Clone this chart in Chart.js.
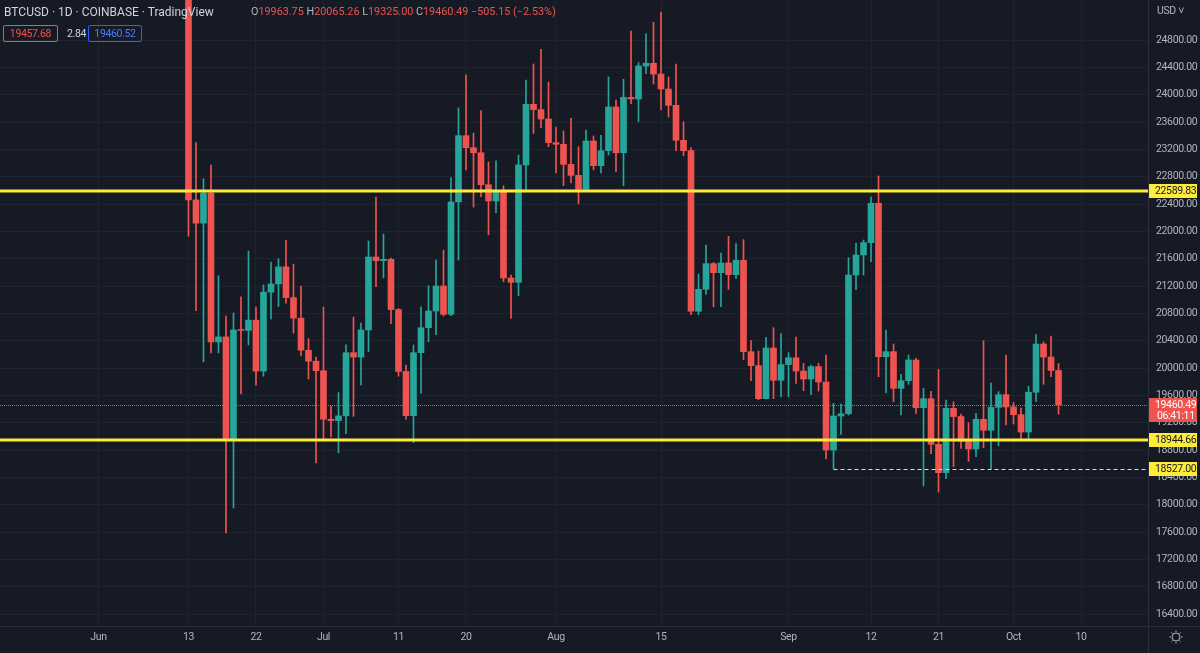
<!DOCTYPE html>
<html>
<head>
<meta charset="utf-8">
<script src="https://cdn.jsdelivr.net/npm/chart.js@4.4.1/dist/chart.umd.min.js"></script>
<style>
  html, body { margin: 0; padding: 0; background: #161a25; }
  #wrap { position: relative; width: 1200px; height: 653px; overflow: hidden; }
  #chart { position: absolute; left: 0; top: 0; }
  .hdr { position: absolute; white-space: nowrap; font-family: Roboto, sans-serif; font-size: 12px; line-height: 14px; }
  .ohlc { font-size: 10.8px; }
  .small { font-size: 10.5px; letter-spacing: -0.35px; }
  .lbl { color: #b2b5be; }
  .val { color: #ef5350; }
  .box { position: absolute; height: 17px; line-height: 15px; border-radius: 2px; font-size: 10.5px; letter-spacing: -0.35px; box-sizing: border-box; text-align: center; }
</style>
</head>
<body>
<div id="wrap">
  <canvas id="chart" width="1200" height="653"></canvas>
  <div class="hdr" style="left:4px; top:5px; color:#d1d4dc">BTCUSD · 1D · COINBASE · TradingView</div>
  <div class="hdr ohlc" style="left:251px; top:5px">
    <span class="lbl">O</span><span class="val">19963.75</span>
    <span class="lbl">H</span><span class="val">20065.26</span>
    <span class="lbl">L</span><span class="val">19325.00</span>
    <span class="lbl">C</span><span class="val">19460.49</span>
    <span class="val">−505.15 (−2.53%)</span>
  </div>
  <div class="hdr box" style="left:3px; top:25px; width:55px; border:1px solid #ef5350; color:#ef5350">19457.68</div>
  <div class="hdr small" style="left:67px; top:27px; color:#d1d4dc">2.84</div>
  <div class="hdr box" style="left:88px; top:25px; width:54px; border:1px solid #2962ff; color:#4a7dff">19460.52</div>
  <div class="hdr small" style="left:1157px; top:4px; color:#b2b5be">USD ˅</div>
</div>

<script>
// BTCUSD daily candles, 13 Jun 2022 -> 7 Oct 2022
const firstDate = '2022-06-13';
const opens = [
  26574, 22460, 22120, 22560, 20380, 20455, 18946, 20556, 20550, 20700, 19955, 21110, 21230, 21480, 21030, 20730, 20260, 20100,
  19960, 19250, 19230, 19300, 20224, 20160, 20556, 21624, 21570, 21590, 20855, 19950, 19302, 20224, 20590, 20834, 21200, 20785,
  22430, 23400, 23224, 23150, 22682, 22444, 22590, 21317, 21254, 22971, 23859, 23781, 23644,
  23298, 23274, 22980, 22820, 22615, 23322, 22961, 23180, 23820, 23150, 23961, 23937, 24420, 24460, 24302, 24083, 23844, 23332,
  23180, 20830, 21152, 21527, 21395, 21537, 21366, 21576, 20239, 20034, 19551, 20293, 19820,
  20050, 20150, 19956, 19839, 20020, 19795, 18800, 19297, 19330, 21361, 21654, 21834, 22410, 20165, 20239, 19702, 19815, 20117,
  19419, 19551, 18883, 18468, 19410, 19290, 18930, 18815, 19249, 19088, 19424, 19610,
  19430, 19317, 19063, 19645, 20351, 20161, 19963.75
];
const highs = [
  26890, 23300, 22770, 22970, 21350, 20760, 20805, 21040, 21710, 20890, 21215, 21550, 21600, 21870, 21520, 21200, 20430, 20160,
  20890, 19440, 19640, 20340, 20746, 20658, 21858, 22502, 21960, 21610, 20870, 20044, 20337, 20897, 21204, 21580, 21726, 22785,
  23805, 24292, 23440, 23766, 23015, 23030, 22668, 21360, 23117, 24215, 24449, 24664, 24185,
  23527, 23468, 23654, 23239, 23483, 23395, 23405, 24259, 23922, 24225, 24932, 24468, 24892, 25059, 25210, 24259, 24449, 23605,
  23225, 21376, 21800, 21547, 21683, 21927, 21820, 21879, 20400, 20249, 20449, 20590, 20502,
  20224, 20453, 20068, 20044, 20068, 20190, 19483, 19473, 21614, 21825, 21873, 22503, 22810, 20556, 20351, 19907, 20190, 20146,
  19702, 19658, 19981, 19532, 19507, 19327, 19200, 19337, 20400, 19780, 19654, 20190,
  19498, 19415, 19732, 20488, 20380, 20468, 20065.26
];
const lows = [
  21930, 20840, 20090, 20220, 20220, 17585, 17950, 19620, 20340, 19750, 19880, 20720, 20900, 20950, 20510, 20175, 19840, 18610,
  18960, 18990, 18760, 19040, 19293, 19751, 20238, 21190, 21320, 20648, 19880, 19253, 18908, 19630, 20385, 20488, 20760, 20766,
  21580, 22897, 22356, 22507, 21950, 22273, 21264, 20727, 21058, 22595, 23434, 23517, 23239,
  22854, 22668, 22707, 22400, 22595, 22900, 22854, 23117, 22873, 22668, 23868, 23605, 24307, 24156, 23776, 23673, 23180, 23107,
  20780, 20780, 21078, 20897, 20897, 21152, 21312, 20121, 19815, 19537, 19546, 19551, 19581,
  19581, 19776, 19668, 19610, 19663, 18668, 18527, 19029, 19312, 21146, 21361, 21556, 19872, 19634, 19507, 19312, 19761, 19336,
  18273, 18746, 18185, 18380, 18556, 18824, 18634, 18703, 18834, 18527, 18859, 19166,
  19180, 18942, 18966, 19512, 19761, 19873, 19325
];
const closes = [
  22460, 22120, 22560, 20380, 20455, 18946, 20556, 20550, 20700, 19955, 21110, 21230, 21480, 21030, 20730, 20260, 20100, 19960,
  19250, 19230, 19300, 20224, 20160, 20556, 21624, 21570, 21590, 20855, 19950, 19302, 20224, 20590, 20834, 21200, 20785, 22430,
  23400, 23224, 23150, 22682, 22444, 22590, 21317, 21254, 22971, 23859, 23781, 23644, 23298,
  23274, 22980, 22820, 22615, 23322, 22961, 23180, 23820, 23150, 23961, 23937, 24420, 24460, 24302, 24083, 23844, 23332, 23180,
  20830, 21152, 21527, 21395, 21537, 21366, 21576, 20239, 20034, 19551, 20293, 19820, 20050,
  20150, 19956, 19839, 20020, 19795, 18800, 19297, 19330, 21361, 21654, 21834, 22410, 20165, 20239, 19702, 19815, 20117, 19419,
  19551, 18883, 18468, 19410, 19290, 18930, 18815, 19249, 19088, 19424, 19610, 19430,
  19317, 19063, 19645, 20351, 20161, 19963.75, 19460.49
];

// axis ticks
const xTickDates = ['2022-06-01', '2022-06-13', '2022-06-22', '2022-07-01', '2022-07-11', '2022-07-20', '2022-08-01',
                    '2022-08-15', '2022-09-01', '2022-09-12', '2022-09-21', '2022-10-01', '2022-10-10'];
const xTickLabels = ['Jun', '13', '22', 'Jul', '11', '20', 'Aug', '15', 'Sep', '12', '21', 'Oct', '10'];
const priceTicks = [16400, 16800, 17200, 17600, 18000, 18400, 18800, 19200, 19600, 20000, 20400, 20800,
                    21200, 21600, 22000, 22400, 22800, 23200, 23600, 24000, 24400, 24800];

// drawn levels
const levels = [22589.83, 18944.66];
const lowLevel = 18527.00;
const lowLevelFrom = '2022-09-07';
const lastPrice = 19460.49;
const countdown = '06:41:11';

const UP = '#26a69a', DOWN = '#ef5350', YELLOW = '#ffeb3b';
const GRID = '#1f2330', LINE = '#2a2e39', TXT = '#b2b5be';
const FONT = 'Roboto, sans-serif';
const SPACING = '-0.35px';

function dayNum(s) {
    const a = Date.UTC(+s.slice(0, 4), +s.slice(5, 7) - 1, +s.slice(8, 10));
    const b = Date.UTC(2022, 5, 1);
    return Math.round((a - b) / 86400000);
}

const x0 = dayNum(firstDate);
const xTicks = xTickDates.map(dayNum);
const colors = closes.map((c, i) => c >= opens[i] ? UP : DOWN);
const bodies = closes.map((c, i) => ({ x: x0 + i, y: [opens[i], c] }));
const wicks = closes.map((c, i) => ({ x: x0 + i, y: [lows[i], highs[i]] }));

function hline(ctx, area, y, color, width, dash, fromX) {
    ctx.save();
    ctx.beginPath();
    ctx.strokeStyle = color;
    ctx.lineWidth = width;
    ctx.setLineDash(dash || []);
    ctx.moveTo(fromX !== undefined ? fromX : area.left, y);
    ctx.lineTo(area.right, y);
    ctx.stroke();
    ctx.restore();
}

function tag(ctx, y, text, bg, fg) {
    ctx.save();
    ctx.fillStyle = bg;
    ctx.fillRect(1149, Math.round(y) - 7, 48, 14);
    ctx.fillStyle = fg;
    ctx.font = '10.5px ' + FONT;
    ctx.letterSpacing = SPACING;
    ctx.textBaseline = 'middle';
    ctx.fillText(text, 1155, Math.round(y) + 0.5);
    ctx.restore();
}

const overlay = {
    id: 'overlay',
    beforeDraw(chart) {
        chart.ctx.letterSpacing = SPACING;
    },
    beforeDatasetsDraw(chart) {
        const { ctx, chartArea, scales } = chart;
        // current price dotted line
        hline(ctx, chartArea, Math.round(scales.y.getPixelForValue(lastPrice)) + 0.5, DOWN, 1, [1, 1]);
    },
    afterDatasetsDraw(chart) {
        const { ctx, chartArea, scales } = chart;
        levels.forEach(v => hline(ctx, chartArea, scales.y.getPixelForValue(v), YELLOW, 3));
        hline(ctx, chartArea, Math.round(scales.y.getPixelForValue(lowLevel)) + 0.5, YELLOW, 1, [4, 3],
              scales.x.getPixelForValue(dayNum(lowLevelFrom)));
    },
    afterDraw(chart) {
        const { ctx, scales } = chart;
        // panel separators
        ctx.save();
        ctx.strokeStyle = LINE;
        ctx.lineWidth = 1;
        ctx.beginPath();
        ctx.moveTo(0, 626.5); ctx.lineTo(1200, 626.5);
        ctx.moveTo(1148.5, 0); ctx.lineTo(1148.5, 653);
        ctx.stroke();
        ctx.restore();

        levels.forEach(v => tag(ctx, scales.y.getPixelForValue(v), v.toFixed(2), YELLOW, '#131722'));
        tag(ctx, scales.y.getPixelForValue(lowLevel), lowLevel.toFixed(2), YELLOW, '#131722');

        // last price + countdown
        const py = Math.round(scales.y.getPixelForValue(lastPrice));
        ctx.save();
        ctx.fillStyle = DOWN;
        ctx.fillRect(1149, py - 7, 48, 24);
        ctx.fillStyle = '#ffffff';
        ctx.font = '10.5px ' + FONT;
        ctx.letterSpacing = SPACING;
        ctx.textBaseline = 'middle';
        ctx.fillText(lastPrice.toFixed(2), 1155, py + 0.5);
        ctx.fillText(countdown, 1157, py + 11);
        ctx.restore();

        // settings icon
        ctx.save();
        ctx.strokeStyle = TXT;
        ctx.lineWidth = 1;
        const cx = 1176, cy = 637;
        ctx.beginPath();
        ctx.arc(cx, cy, 4, 0, Math.PI * 2);
        for (let k = 0; k < 8; k++) {
            const a = k * Math.PI / 4;
            ctx.moveTo(cx + Math.cos(a) * 5, cy + Math.sin(a) * 5);
            ctx.lineTo(cx + Math.cos(a) * 6.5, cy + Math.sin(a) * 6.5);
        }
        ctx.stroke();
        ctx.restore();
    }
};

new Chart(document.getElementById('chart'), {
    type: 'bar',
    data: {
        datasets: [
            {
                data: bodies,
                backgroundColor: colors,
                barThickness: 6,
                minBarLength: 1,
                grouped: false,
                clip: 0
            },
            {
                data: wicks,
                backgroundColor: colors,
                barThickness: 1,
                grouped: false,
                clip: 0
            }
        ]
    },
    plugins: [overlay],
    options: {
        responsive: false,
        animation: false,
        layout: { padding: 0 },
        plugins: {
            legend: { display: false },
            tooltip: { enabled: false }
        },
        scales: {
            x: {
                type: 'linear',
                min: -13.13,
                max: 139.93,
                offset: false,
                grid: { color: GRID, offset: false, drawTicks: false },
                border: { display: false },
                afterBuildTicks: s => { s.ticks = xTicks.map(v => ({ value: v })); },
                afterFit: s => { s.height = 27; s.paddingLeft = 0; s.paddingRight = 0; },
                ticks: {
                    color: TXT,
                    font: { family: FONT, size: 10.5 },
                    padding: 5,
                    maxRotation: 0,
                    autoSkip: false,
                    callback: v => xTickLabels[xTicks.indexOf(v)]
                }
            },
            y: {
                position: 'right',
                min: 16224.4,
                max: 25385.4,
                beginAtZero: false,
                grid: { color: GRID, drawTicks: false },
                border: { display: false },
                afterBuildTicks: s => { s.ticks = priceTicks.map(v => ({ value: v })); },
                afterFit: s => { s.width = 52; s.paddingTop = 0; s.paddingBottom = 0; },
                ticks: {
                    color: TXT,
                    font: { family: FONT, size: 10.5 },
                    padding: 8,
                    callback: v => v.toFixed(2)
                }
            }
        }
    }
});
</script>
</body>
</html>
